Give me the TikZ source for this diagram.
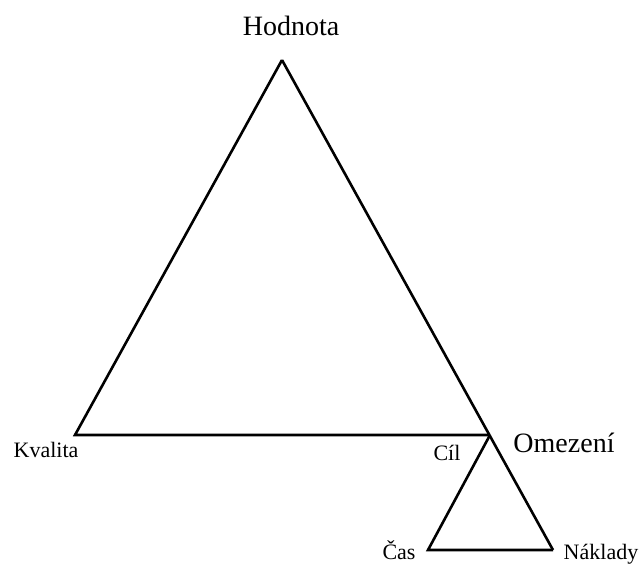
\documentclass[tikz,border=0pt]{standalone}
\usepackage{fontspec}
\setmainfont{Liberation Serif}
\begin{document}
\begin{tikzpicture}[x=1pt,y=-1pt,
  edge/.style={line width=2.6pt,line join=miter},
  biglabel/.style={anchor=base,inner sep=0pt,font=\fontsize{28}{30}\selectfont},
  smalllabel/.style={anchor=base,inner sep=0pt,font=\fontsize{22}{24}\selectfont}]
\useasboundingbox (0,0) rectangle (642,563);
\coordinate (apex) at (282,60);
\coordinate (kv) at (75,435);
\coordinate (cil) at (490,435);
\coordinate (cas) at (428,550);
\coordinate (nak) at (553,550);
\draw[edge] (apex) -- (kv) -- (cil);
\draw[edge] (apex) -- (nak);
\draw[edge] (cil) -- (cas) -- (nak);
\node[biglabel] (hod) at (291,35) {Hodnota};
\node[biglabel] (ome) at (564,452) {Omezení};
\node[smalllabel] (kval) at (46,457) {Kvalita};
\node[smalllabel] (cl) at (447,460) {Cíl};
\node[smalllabel] (cs) at (399,559) {Čas};
\node[smalllabel] (nk) at (601,559) {Náklady};
\end{tikzpicture}
\end{document}
